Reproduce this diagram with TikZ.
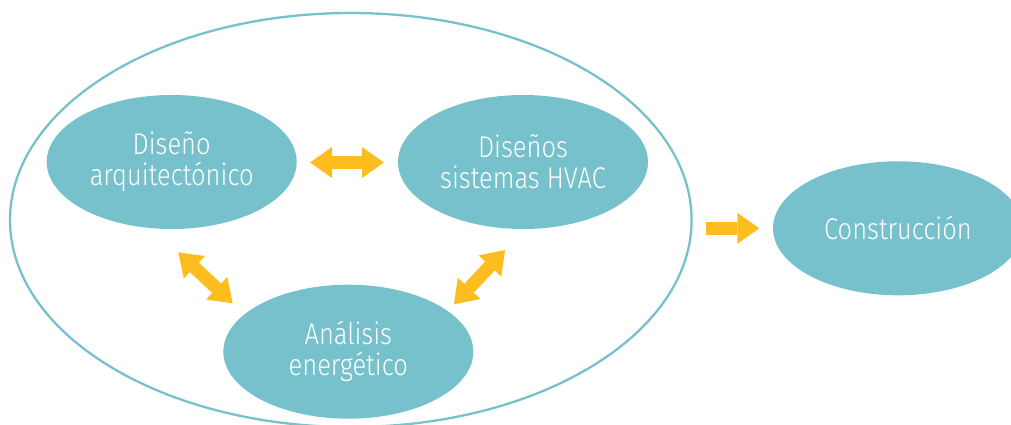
\documentclass[tikz,border=0pt]{standalone}
\usepackage{fontspec}
\setmainfont{Fira Sans}[UprightFont=* Light, FakeStretch=0.85]
\usetikzlibrary{arrows.meta,shapes.geometric}
\definecolor{tealfill}{HTML}{76C1CB}
\definecolor{amber}{HTML}{FDBD1F}
\begin{document}
\begin{tikzpicture}[x=1pt,y=-1pt,
  blob/.style={ellipse, fill=tealfill, text=white, minimum width=250pt, minimum height=134pt,
    inner sep=0pt, align=center, font=\fontsize{30}{31}\selectfont},
  outer/.style={ellipse, draw=tealfill, line width=2.3pt, minimum width=681.6pt, minimum height=414pt, inner sep=0pt},
  tipx/.tip={Triangle[width=31pt,length=22pt,line width=0pt]},
  fat/.style={amber, line width=13pt, tipx-tipx},
  fatone/.style={amber, line width=13.5pt, -tipx}]
\useasboundingbox (0,0) rectangle (1011,425);
\node[outer] (grp) at (350.8,220) {};
\node[blob] (arq) at (171.7,162) {Diseño\\arquitectónico};
\node[blob] (hvac) at (523,162) {Diseños\\sistemas HVAC};
\node[blob] (ana) at (348.3,351.7) {Análisis\\energético};
\node[blob] (con) at (898,228.3) {Construcción};
\coordinate (h1) at (310,162.5);
\coordinate (h2) at (384,162.5);
\coordinate (l1) at (178.3,252.3);
\coordinate (l2) at (232.7,303.3);
\coordinate (r1) at (505,250);
\coordinate (r2) at (454,304.3);
\coordinate (c1) at (706,228.3);
\coordinate (c2) at (759.3,228.3);
\draw[fat] (h1) -- (h2);
\draw[fat] (l1) -- (l2);
\draw[fat] (r1) -- (r2);
\draw[fatone] (c1) -- (c2);
\end{tikzpicture}
\end{document}
